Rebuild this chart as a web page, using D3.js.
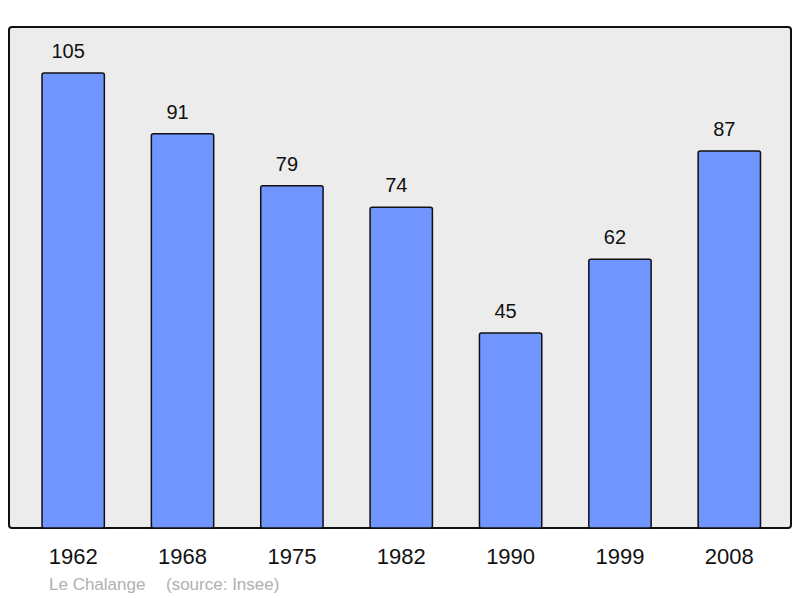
<!DOCTYPE html>
<html>
<head>
<meta charset="utf-8">
<script src="https://cdn.jsdelivr.net/npm/d3@7"></script>
<style>
  body { margin: 0; background: #fff; }
  text { font-family: "Liberation Sans", Arial, sans-serif; }
</style>
</head>
<body>
<div id="chart"></div>
<script>
(function () {

    var years = ['1962', '1968', '1975', '1982', '1990', '1999', '2008'];
    var population = [105, 91, 79, 74, 45, 62, 87];
    var footer = ['Le Chalange', '(source: Insee)'];

    var w = 800;
    var h = 598;
    var baseY = 528;

    var svg = d3.select('#chart')
        .append('svg')
            .attr('width', w)
            .attr('height', h);

    // grey panel behind the bars
    svg.append('rect')
        .attr('x', 9)
        .attr('y', 27)
        .attr('width', 782)
        .attr('height', 501)
        .attr('rx', 3)
        .attr('fill', '#ececec')
        .attr('stroke', '#111')
        .attr('stroke-width', 2);

    var x = d3.scaleBand()
        .domain(years)
        .range([18.5, 784])
        .paddingInner(0.43)
        .paddingOuter(0.215);

    var y = d3.scaleLinear()
        .domain([0, 105])
        .range([baseY, 73]);

    svg.selectAll('rect.bar')
        .data(population)
        .enter()
        .append('rect')
            .attr('class', 'bar')
            .attr('x', function (d, i) { return x(years[i]); })
            .attr('y', function (d) { return y(d); })
            .attr('width', x.bandwidth())
            .attr('height', function (d) { return baseY - y(d); })
            .attr('rx', 2)
            .attr('fill', '#7095ff')
            .attr('stroke', '#111')
            .attr('stroke-width', 1.5);

    // value labels sit a little left of the bar centre, like the original
    svg.selectAll('text.val')
        .data(population)
        .enter()
        .append('text')
            .attr('class', 'val')
            .text(function (d) { return d; })
            .attr('text-anchor', 'middle')
            .attr('x', function (d, i) { return x(years[i]) + x.bandwidth() / 2 - 5; })
            .attr('y', function (d) { return y(d) - 15; })
            .attr('font-size', 20)
            .attr('fill', '#111');

    // year labels along the bottom
    var xAxis = d3.axisBottom(x).tickSize(0).tickPadding(0);
    var ax = svg.append('g')
        .attr('transform', 'translate(0,' + (baseY + 19) + ')')
        .call(xAxis);
    ax.select('.domain').remove();
    ax.selectAll('text')
        .attr('font-size', 22)
        .attr('dy', '0.75em')
        .attr('y', 0)
        .attr('fill', '#111')
        .attr('font-family', '"Liberation Sans", Arial, sans-serif');

    svg.append('text')
        .text(footer[0])
        .attr('x', 49)
        .attr('y', 590)
        .attr('font-size', 17)
        .attr('fill', '#b0b0b0');

    svg.append('text')
        .text(footer[1])
        .attr('x', 166)
        .attr('y', 590)
        .attr('font-size', 17)
        .attr('fill', '#b0b0b0');

})();
</script>
</body>
</html>
